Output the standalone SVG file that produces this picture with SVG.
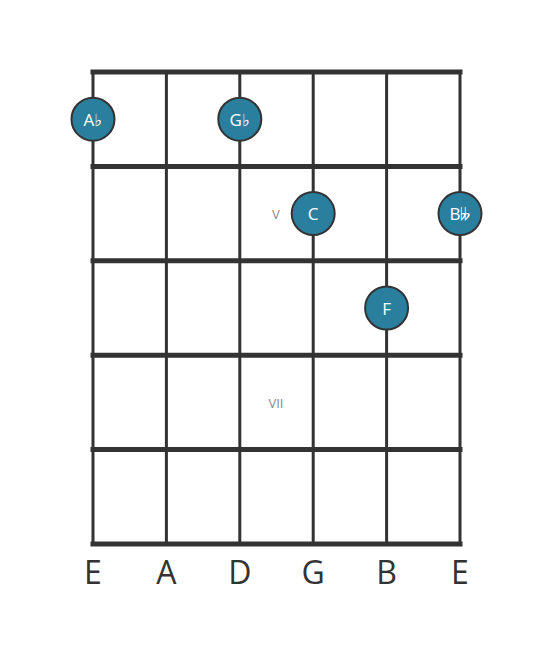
<svg xmlns="http://www.w3.org/2000/svg" width="553" height="656" viewBox="0 0 553 656">
<style>
.fret{stroke:#333;stroke-width:5;stroke-linecap:square}
.str{stroke:#333;stroke-width:3}
.note circle{fill:#2a7f9e;stroke:#333;stroke-width:2}
.note text{fill:#fff;font-family:"Open Sans","Noto Sans","DejaVu Sans",sans-serif;font-size:17px;text-anchor:middle;dominant-baseline:central}
.lbl{fill:#333;font-family:"Open Sans","Noto Sans",sans-serif;font-size:32px;text-anchor:middle}
.pos{fill:#888;font-family:"Open Sans","Noto Sans",sans-serif;font-size:13px;text-anchor:middle;dominant-baseline:central}
</style>
<rect width="553" height="656" fill="#fff"/>
<g id="connectors">
<line class="str" x1="93" y1="72" x2="93" y2="544"/>
<line class="str" x1="166.4" y1="72" x2="166.4" y2="544"/>
<line class="str" x1="239.8" y1="72" x2="239.8" y2="544"/>
<line class="str" x1="313.2" y1="72" x2="313.2" y2="544"/>
<line class="str" x1="386.6" y1="72" x2="386.6" y2="544"/>
<line class="str" x1="460" y1="72" x2="460" y2="544"/>
<line class="fret" x1="93" y1="72" x2="460" y2="72"/>
<line class="fret" x1="93" y1="166.4" x2="460" y2="166.4"/>
<line class="fret" x1="93" y1="260.8" x2="460" y2="260.8"/>
<line class="fret" x1="93" y1="355.2" x2="460" y2="355.2"/>
<line class="fret" x1="93" y1="449.6" x2="460" y2="449.6"/>
<line class="fret" x1="93" y1="544" x2="460" y2="544"/>
</g>
<text class="pos" x="276" y="214">V</text>
<text class="pos" x="276" y="403">VII</text>
<g id="n-ab" class="note"><circle cx="93" cy="119.2" r="21.5"/><text x="93" y="119.2">A♭</text></g>
<g id="n-gb" class="note"><circle cx="239.8" cy="119.2" r="21.5"/><text x="239.8" y="119.2">G♭</text></g>
<g id="n-c" class="note"><circle cx="313.2" cy="213.6" r="21.5"/><text x="313.2" y="213.6">C</text></g>
<g id="n-bbb" class="note"><circle cx="460" cy="213.6" r="21.5"/><text x="460" y="213.6">B𝄫</text></g>
<g id="n-f" class="note"><circle cx="386.6" cy="308" r="21.5"/><text x="386.6" y="308">F</text></g>
<g id="labels">
<text class="lbl" x="93" y="584">E</text>
<text class="lbl" x="166.4" y="584">A</text>
<text class="lbl" x="239.8" y="584">D</text>
<text class="lbl" x="313.2" y="584">G</text>
<text class="lbl" x="386.6" y="584">B</text>
<text class="lbl" x="460" y="584">E</text>
</g>
</svg>
